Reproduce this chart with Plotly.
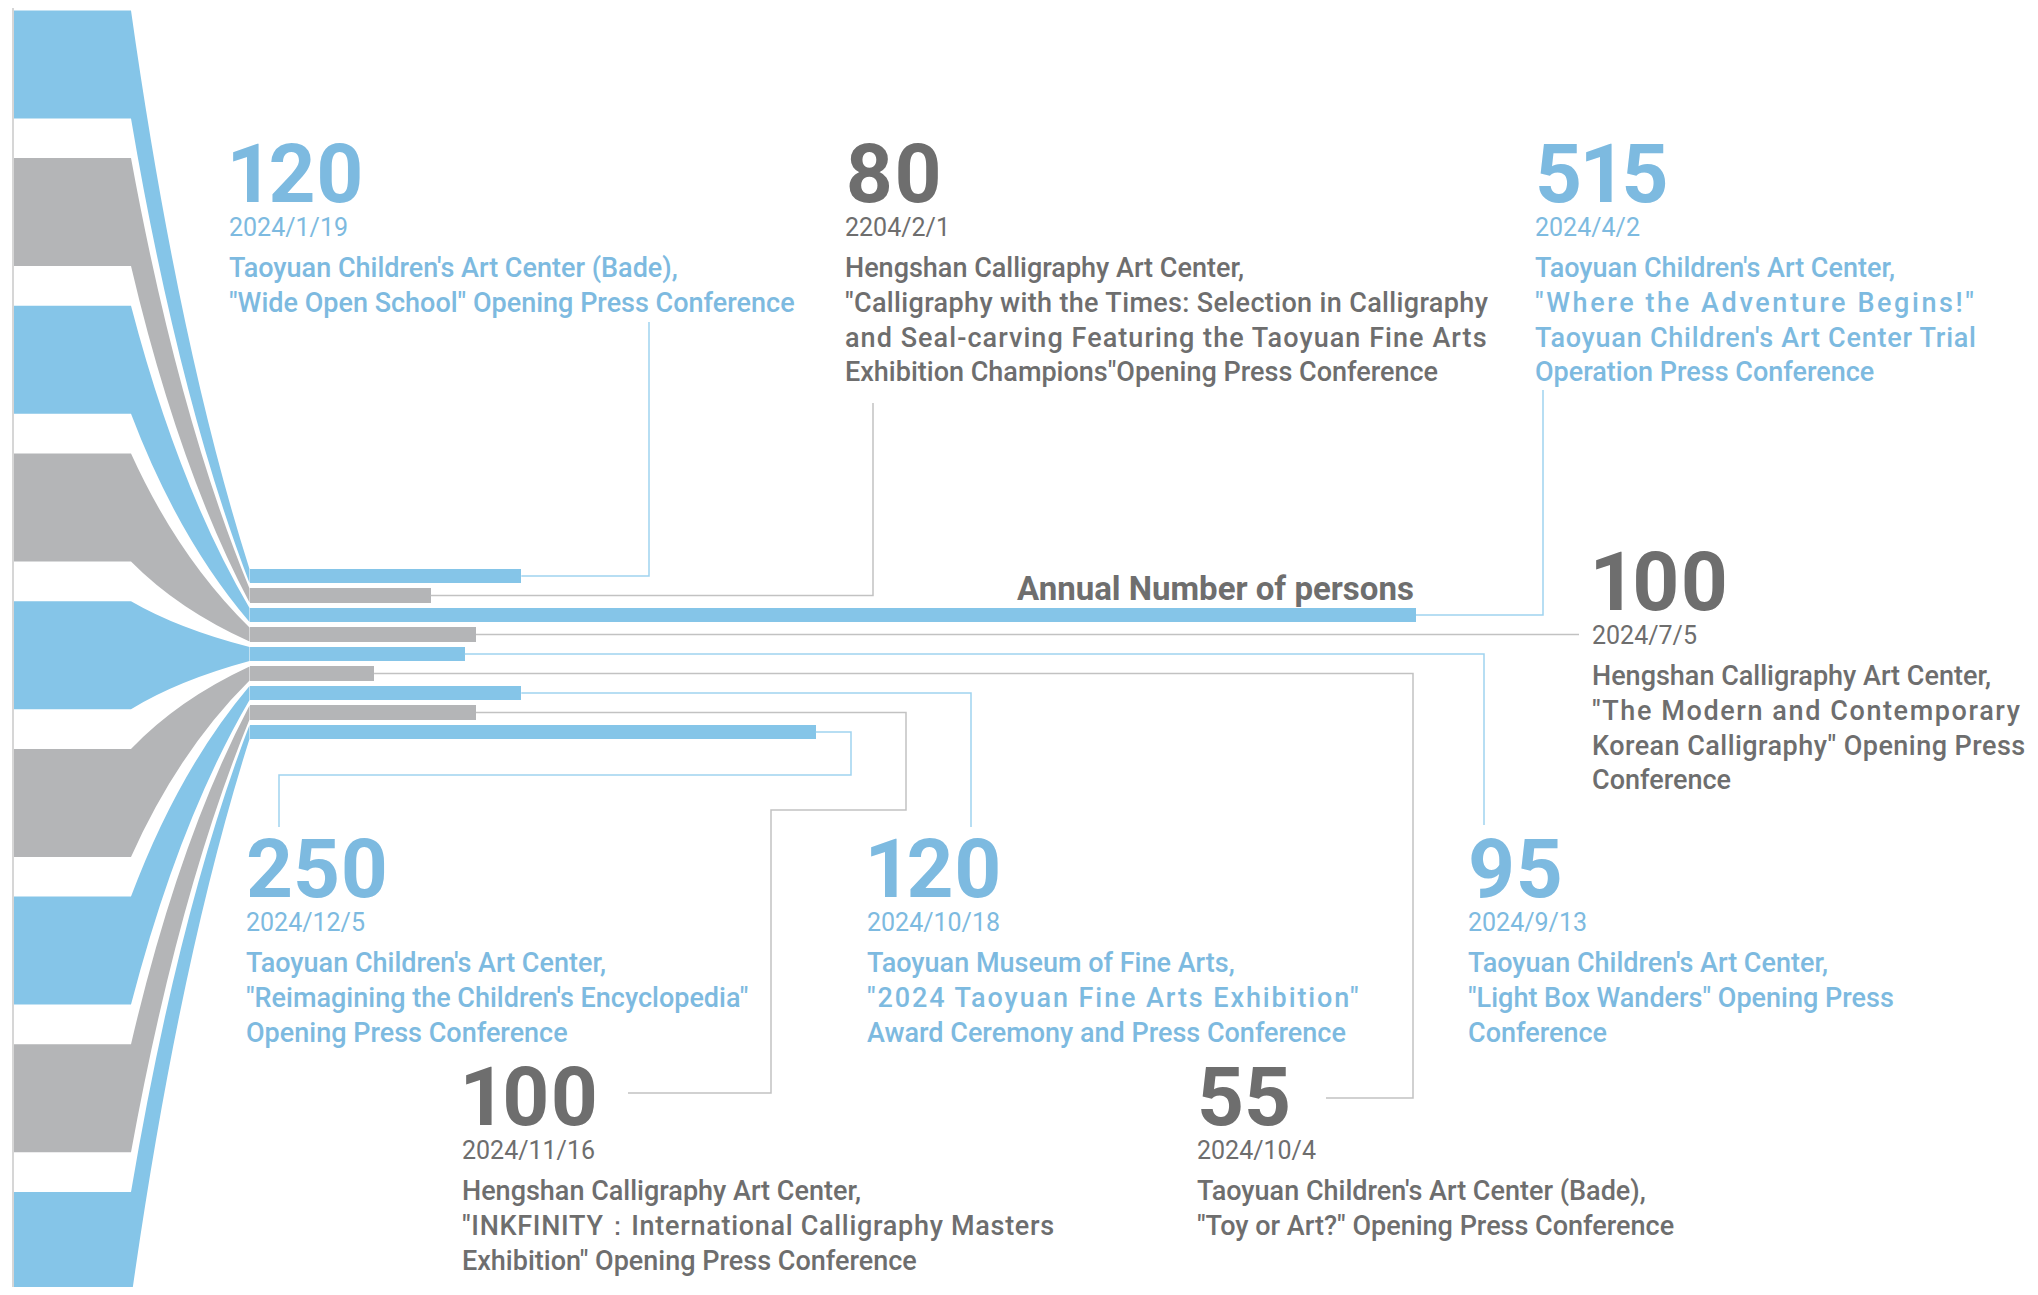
import plotly.graph_objects as go

# events in date order, top bar to bottom bar
dates = ["2024/1/19", "2204/2/1", "2024/4/2", "2024/7/5", "2024/9/13",
         "2024/10/4", "2024/10/18", "2024/11/16", "2024/12/5"]
persons = [120, 80, 515, 100, 95, 55, 120, 100, 250]
tones = ["blue", "gray", "blue", "gray", "blue", "gray", "blue", "gray", "blue"]

titles = [
    ["Taoyuan Children's Art Center (Bade),",
     "\"Wide Open School\" Opening Press Conference"],
    ["Hengshan Calligraphy Art Center,",
     "\"Calligraphy with the Times: Selection in Calligraphy",
     "and Seal-carving Featuring the Taoyuan Fine Arts",
     "Exhibition Champions\"Opening Press Conference"],
    ["Taoyuan Children's Art Center,",
     "\"Where the Adventure Begins!\"",
     "Taoyuan Children's Art Center Trial",
     "Operation Press Conference"],
    ["Hengshan Calligraphy Art Center,",
     "\"The Modern and Contemporary",
     "Korean Calligraphy\" Opening Press",
     "Conference"],
    ["Taoyuan Children's Art Center,",
     "\"Light Box Wanders\" Opening Press",
     "Conference"],
    ["Taoyuan Children's Art Center (Bade),",
     "\"Toy or Art?\" Opening Press Conference"],
    ["Taoyuan Museum of Fine Arts,",
     "\"2024 Taoyuan Fine Arts Exhibition\"",
     "Award Ceremony and Press Conference"],
    ["Hengshan Calligraphy Art Center,",
     "\"INKFINITY：International Calligraphy Masters",
     "Exhibition\" Opening Press Conference"],
    ["Taoyuan Children's Art Center,",
     "\"Reimagining the Children's Encyclopedia\"",
     "Opening Press Conference"],
]
axis_title = "Annual Number of persons"

# ---------------- layout (pixels of the 2038x1295 page) ----------------
PAGE_W, PAGE_H = 2038, 1295
BODY_MARGIN = 8       # default html body margin around the plot div
W, H = PAGE_W - 2 * BODY_MARGIN, PAGE_H - 2 * BODY_MARGIN
BAR_X0 = 249.5        # page pixel where bars start
PX_PER_UNIT = 2.265   # pixels per person
BAR_Y0 = 576          # page pixel centre of first bar
BAR_PITCH = 19.5
BAR_W = 0.72          # in bar slots

BAND_LEFT, BAND_RIGHT = 14, 131
BAND_TOP0, BAND_PITCH, BAND_H = 10.4, 147.7, 108

# label block: (left px, baseline of big number px)
label_pos = [(227, 201), (843, 201), (1533, 201), (1590, 609), (1466, 896),
             (1195, 1124), (865, 896), (460, 1124), (244, 896)]
# justified lines in the original: (event, line) -> letter spacing px
spacing = {(1, 1): 0.35, (1, 2): 1.05, (2, 1): 2.6, (2, 2): 0.75,
           (3, 1): 1.6, (3, 2): 0.45, (6, 1): 1.9, (7, 1): 0.7}
# connector waypoints after bar end: (x px, y px or None = bar level)
routes = [
    [(649, None), (649, 322)],
    [(873, None), (873, 403)],
    [(1543, None), (1543, 390)],
    [(1579, None)],
    [(1484, None), (1484, 825)],
    [(1413, None), (1413, 1098), (1326, 1098)],
    [(971, None), (971, 827)],
    [(906, None), (906, 810), (771, 810), (771, 1093), (628, 1093)],
    [(851, None), (851, 775), (279, 775), (279, 827)],
]

bar_col = {"blue": "#85C5E8", "gray": "#B4B5B7"}
txt_col = {"blue": "#7DBAE0", "gray": "#6E6E6E"}
line_col = {"blue": "#A0D3F0", "gray": "#C2C2C2"}
FONT = "Roboto"
NUM_SIZE, DATE_SIZE, BASE_SIZE, TITLE_SIZE = 82, 25, 26, 27


def px_x(p):
    return (p - BAR_X0) / PX_PER_UNIT


def px_y(p):
    return (p - BAR_Y0) / BAR_PITCH


fig = go.Figure()

fig.add_trace(
    go.Bar(
        x=persons,
        y=list(range(len(persons))),
        orientation="h",
        width=BAR_W,
        marker=dict(color=[bar_col[t] for t in tones], line=dict(width=0)),
        hoverinfo="skip",
    )
)

# funnel bands on the left
shapes = []
xl, xr = px_x(BAND_LEFT), px_x(BAND_RIGHT)
for i, t in enumerate(tones):
    top = px_y(BAND_TOP0 + BAND_PITCH * i)
    bot = px_y(BAND_TOP0 + BAND_PITCH * i + BAND_H)
    bt, bb = i - BAR_W / 2, i + BAR_W / 2
    c1 = (xr + 0.4 * (0 - xr), top + 0.6 * (bt - top))
    c2 = (xr + 0.4 * (0 - xr), bot + 0.6 * (bb - bot))
    path = (
        f"M{xl},{top} L{xr},{top} Q{c1[0]},{c1[1]} 0,{bt} "
        f"L0,{bb} Q{c2[0]},{c2[1]} {xr},{bot} L{xl},{bot} Z"
    )
    shapes.append(dict(type="path", path=path, xref="x", yref="y",
                       fillcolor=bar_col[t], line=dict(width=0), layer="below"))

shapes.append(dict(type="line", xref="x", yref="paper", x0=px_x(13), x1=px_x(13),
                   y0=0, y1=1, line=dict(color="#C8C8C8", width=1.5)))

# connectors from bar ends to labels
for i, (v, t) in enumerate(zip(persons, tones)):
    xs, ys = [v], [i]
    for rx, ry in routes[i]:
        xs.append(px_x(rx))
        ys.append(i if ry is None else px_y(ry))
    fig.add_trace(
        go.Scatter(x=xs, y=ys, mode="lines", hoverinfo="skip",
                   line=dict(color=line_col[t], width=1.5))
    )

annotations = []
for i, (v, t) in enumerate(zip(persons, tones)):
    lx, base = label_pos[i]
    c = txt_col[t]
    head = (
        f'<span style="font-size:{NUM_SIZE}px;font-variant-numeric:proportional-nums">'
        f"<b>{v}</b></span><br>"
        f'<span style="font-size:{DATE_SIZE}px">{dates[i]}</span>'
    )
    annotations.append(dict(
        x=px_x(lx), y=px_y(base - 0.928 * NUM_SIZE - 1), text=head,
        xanchor="left", yanchor="top", align="left", showarrow=False,
        font=dict(family=FONT, size=BASE_SIZE, color=c)))
    for k, line in enumerate(titles[i]):
        ls = spacing.get((i, k))
        txt = f'<span style="letter-spacing:{ls}px">{line}</span>' if ls else line
        annotations.append(dict(
            x=px_x(lx), y=px_y(base + 67 + 34.8 * k), text=txt,
            xanchor="left", yanchor="middle", showarrow=False,
            font=dict(family=FONT, size=TITLE_SIZE, color=c, weight=500)))

imax = persons.index(max(persons))
annotations.append(dict(
    x=max(persons), y=imax - 1.35, text=f"<b>{axis_title}</b>",
    xanchor="right", yanchor="middle", showarrow=False,
    font=dict(family=FONT, size=33, color="#6E6E6E")))

fig.update_layout(
    width=W, height=H, autosize=False,
    margin=dict(l=0, r=0, t=0, b=0, pad=0),
    paper_bgcolor="white", plot_bgcolor="white",
    showlegend=False, bargap=0,
    xaxis=dict(range=[px_x(BODY_MARGIN), px_x(BODY_MARGIN + W)],
               visible=False, fixedrange=True),
    yaxis=dict(range=[px_y(BODY_MARGIN + H), px_y(BODY_MARGIN)],
               visible=False, fixedrange=True),
    shapes=shapes, annotations=annotations,
)

fig.write_html("out.html")
